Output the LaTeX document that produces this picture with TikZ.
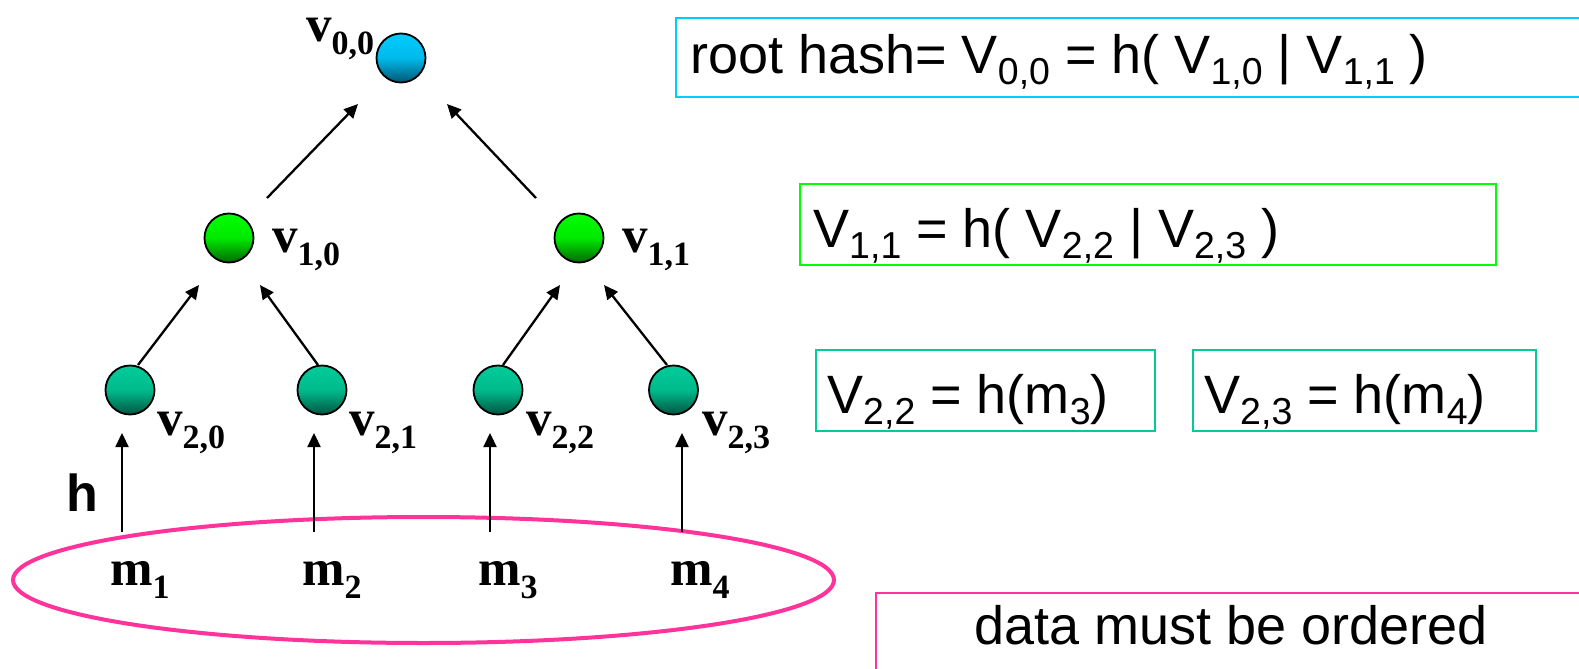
\documentclass[tikz,border=0pt]{standalone}
\usepackage{fontspec}
\setmainfont{Liberation Serif}
\newfontfamily\arialf{Liberation Sans}
\usetikzlibrary{arrows.meta,calc}
\definecolor{cyanb}{RGB}{0,204,255}
\definecolor{cyand}{RGB}{0,85,115}
\definecolor{greenb}{RGB}{0,255,0}
\definecolor{greend}{RGB}{0,105,0}
\definecolor{tealb}{RGB}{0,204,153}
\definecolor{teald}{RGB}{0,85,65}
\definecolor{pinkc}{RGB}{255,51,153}
\newcommand\asub[1]{\raisebox{-11pt}{\fontsize{37.5}{37.5}\selectfont #1}}
\newcommand\tsub[1]{\raisebox{-13pt}{\fontsize{34}{34}\selectfont\bfseries #1}}
\tikzset{
  vnode/.style={circle, draw=black, line width=1.8pt, minimum size=49pt, inner sep=0pt},
  rootn/.style={vnode, top color=cyanb, bottom color=cyand, middle color=cyanb!85!cyand},
  midn/.style={vnode, top color=greenb, bottom color=greend, middle color=greenb!85!greend},
  leafn/.style={vnode, top color=tealb, bottom color=teald, middle color=tealb!85!teald},
  lab/.style={anchor=base west, inner sep=0pt, font=\fontsize{51}{51}\selectfont\bfseries},
  atext/.style={anchor=base west, inner sep=0pt, font=\arialf\fontsize{54}{54}\selectfont},
  arr/.style={line width=2.3pt, -{Triangle[length=14pt,width=13pt]}},
  boxline/.style={line width=2pt}
}
\begin{document}
\begin{tikzpicture}[x=1pt,y=-1pt]
\useasboundingbox (0,0) rectangle (1579,669);
\clip (0,0) rectangle (1579,669);
\fill[white] (0,0) rectangle (1579,669);

% ellipse
\draw[pinkc, line width=4pt] (423.5,580) ellipse [x radius=410.5, y radius=63];

% tree nodes
\node[rootn] (v00) at (401,58) {};
\node[midn] (v10) at (229,238) {};
\node[midn] (v11) at (579,238) {};
\node[leafn] (v20) at (130,390) {};
\node[leafn] (v21) at (322,390) {};
\node[leafn] (v22) at (498,390) {};
\node[leafn] (v23) at (673.5,390) {};

% labels
\node[lab] (l00) at (306,42) {v\tsub{0,0}};
\node[lab] (l10) at (272,252) {v\tsub{1,0}};
\node[lab] (l11) at (622,252) {v\tsub{1,1}};
\node[lab] (l20) at (157,435) {v\tsub{2,0}};
\node[lab] (l21) at (349,435) {v\tsub{2,1}};
\node[lab] (l22) at (526,435) {v\tsub{2,2}};
\node[lab] (l23) at (702,435) {v\tsub{2,3}};

\node[lab] (m1) at (110,585) {m\tsub{1}};
\node[lab] (m2) at (302,585) {m\tsub{2}};
\node[lab] (m3) at (478,585) {m\tsub{3}};
\node[lab] (m4) at (670,585) {m\tsub{4}};

\node[anchor=base west, inner sep=0pt, font=\arialf\bfseries\fontsize{52}{52}\selectfont] (hl) at (66,511) {h};

% tree arrows
\draw[arr] ($(v20)+(8,-25)$) -- ($(v10)+(-30,47)$);
\draw[arr] ($(v21)+(-4,-25)$) -- ($(v10)+(31,47)$);
\draw[arr] ($(v22)+(5,-25)$) -- ($(v11)+(-19,47)$);
\draw[arr] ($(v23)+(-6.5,-25)$) -- ($(v11)+(25,47)$);
\draw[arr] ($(v10)+(38,-40)$) -- ($(v00)+(-43,46)$);
\draw[arr] ($(v11)+(-43,-40)$) -- ($(v00)+(46,46)$);

% leaf arrows
\coordinate (c1) at (122,532);
\coordinate (c2) at (314,532);
\coordinate (c3) at (490,532);
\coordinate (c4) at (682,532);
\draw[arr] (c1) -- (c1 |- 0,433);
\draw[arr] (c2) -- (c2 |- 0,433);
\draw[arr] (c3) -- (c3 |- 0,433);
\draw[arr] (c4) -- (c4 |- 0,433);

% boxes
\draw[boxline, cyanb] (676,18) rectangle (1600,97);
\node[atext] (t0) at (690,74) {root hash= V\asub{0,0} = h( V\asub{1,0} | V\asub{1,1} )};

\draw[boxline, greenb] (800,184) rectangle (1496,265);
\node[atext] (t1) at (813,247) {V\asub{1,1} = h( V\asub{2,2} | V\asub{2,3} )};

\draw[boxline, tealb] (816,350) rectangle (1155,431);
\node[atext] (t2) at (827,413) {V\asub{2,2} = h(m\asub{3})};
\draw[boxline, tealb] (1193,350) rectangle (1536,431);
\node[atext] (t3) at (1204,413) {V\asub{2,3} = h(m\asub{4})};

\draw[boxline, pinkc] (876,593) rectangle (1600,700);
\node[atext, anchor=base] (t4) at (1231,644) {data must be ordered};
\end{tikzpicture}
\end{document}
